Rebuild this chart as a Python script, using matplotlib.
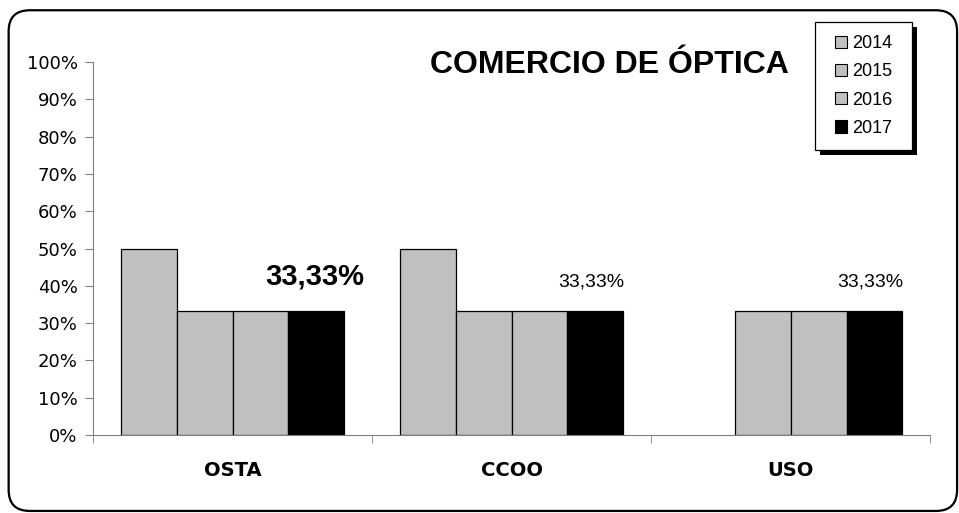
import matplotlib.pyplot as plt
from matplotlib.patches import FancyBboxPatch, Patch, Rectangle
from matplotlib.ticker import FixedLocator, PercentFormatter
import numpy as np

categories = ["OSTA", "CCOO", "USO"]
years = ["2014", "2015", "2016", "2017"]
v2014 = [50.0, 50.0, 0.0]
v2015 = [33.33, 33.33, 33.33]
v2016 = [33.33, 33.33, 33.33]
v2017 = [33.33, 33.33, 33.33]
labels_2017 = ["33,33%", "33,33%", "33,33%"]

series = [v2014, v2015, v2016, v2017]
colors = ["#c0c0c0", "#c0c0c0", "#c0c0c0", "#000000"]

fig = plt.figure(figsize=(9.59, 5.13), dpi=100)
ax = fig.add_axes([0.097, 0.152, 0.873, 0.727])

x = np.arange(len(categories))
w = 0.2
for i, vals in enumerate(series):
    vals = np.array(vals, dtype=float)
    vals[vals == 0] = np.nan  # empty bars are not drawn
    ax.bar(x + (i - 1.5) * w, vals, w, color=colors[i], edgecolor="black",
           linewidth=0.9)

# data labels on the 2017 series (first one is emphasised)
for j, txt in enumerate(labels_2017):
    if j == 0:
        ax.text(x[j] + 1.5 * w - 0.007, v2017[j] + 6.9, txt, ha="center",
                va="baseline", fontsize=21, fontweight="bold",
                family="Liberation Sans")
    else:
        ax.text(x[j] + 1.5 * w - 0.015, v2017[j] + 6.4, txt, ha="center",
                va="baseline", fontsize=14, family="Liberation Sans")

ax.set_xlim(-0.5, 2.5)
ax.set_ylim(0, 100)
ax.set_yticks(np.arange(0, 101, 10))
ax.yaxis.set_major_formatter(PercentFormatter(decimals=0))
ax.set_xticks(x)
ax.set_xticklabels(categories, fontsize=14, fontweight="bold")
ax.xaxis.set_minor_locator(FixedLocator([-0.5, 0.5, 1.5, 2.5]))
ax.tick_params(axis="x", which="major", length=0, pad=19)
ax.tick_params(axis="x", which="minor", length=6, color="#808080")
ax.tick_params(axis="y", length=6, color="#808080", labelsize=13, pad=5)

for s in ["top", "right"]:
    ax.spines[s].set_visible(False)
ax.spines["left"].set_color("#808080")
ax.spines["bottom"].set_color("#808080")

fig.text(0.636, 0.873, "COMERCIO DE ÓPTICA", ha="center", va="center",
         fontsize=23, fontweight="bold", family="Liberation Sans")

# legend box with shadow, drawn in figure pixels
W, H = 959, 513
lx0, ly0, lx1, ly1 = 815, 22, 912, 150
fig.patches.append(Rectangle(((lx0 + 5) / W, 1 - (ly1 + 5) / H),
                             (lx1 - lx0) / W, (ly1 - ly0) / H,
                             transform=fig.transFigure, facecolor="black",
                             edgecolor="none", zorder=5))
fig.patches.append(Rectangle((lx0 / W, 1 - ly1 / H),
                             (lx1 - lx0) / W, (ly1 - ly0) / H,
                             transform=fig.transFigure, facecolor="white",
                             edgecolor="black", linewidth=0.9, zorder=6))

handles = [Patch(facecolor=c, edgecolor="black", linewidth=0.8) for c in colors]
leg = fig.legend(handles, years, loc="center",
                 bbox_to_anchor=((lx0 + lx1) / 2 / W, 1 - (ly0 + ly1) / 2 / H),
                 frameon=False, handlelength=0.67, handleheight=0.67,
                 handletextpad=0.25, labelspacing=0.62, borderpad=0,
                 borderaxespad=0, prop={"family": "Liberation Sans", "size": 13})
leg.set_zorder(7)

border = FancyBboxPatch((0.009, 0.004), 0.989, 0.976,
                        boxstyle="round,pad=0,rounding_size=0.022",
                        transform=fig.transFigure, fill=False,
                        edgecolor="black", linewidth=1.6, mutation_aspect=1.87)
fig.patches.append(border)

fig.savefig("out.png", dpi=100)
